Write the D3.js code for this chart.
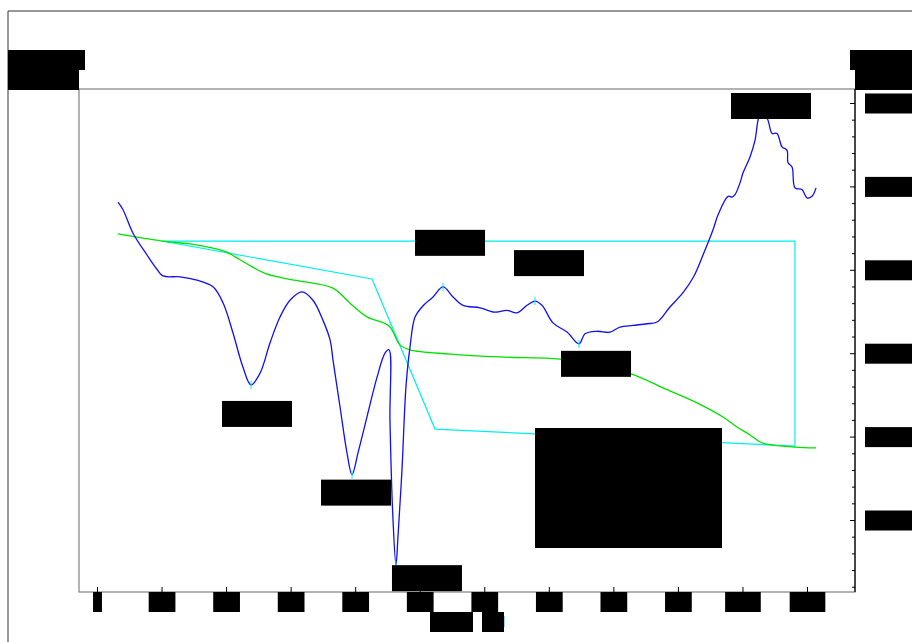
<!DOCTYPE html>
<html>
<head>
<meta charset="utf-8">
<script src="https://cdn.jsdelivr.net/npm/d3@7"></script>
<style>
  html, body { margin: 0; padding: 0; background: #fff; }
  svg { display: block; font-family: "DejaVu Sans", sans-serif; }
</style>
</head>
<body>
<svg id="chart" width="912" height="642"></svg>
<script>
// ---------------- data ----------------
const xTicks = [0, 100, 200, 300, 400, 500, 600, 700, 800, 900, 1000, 1100];
const tgTicks = [0, 20, 40, 60, 80, 100];
const tgTickLabels = ["0.0", "20.0", "40.0", "60.0", "80.0", "100.0"];

// DTA signal (blue)
const dtaTemp = [32.5,40.3,55.8,77.5,92.9,102.3,128.6,154.9,179.7,195.2,210.7,226.2,238.6,252.6,268.0,283.5,299.0,317.6,334.6,350.1,361.0,365.6,376.5,387.3,395.1,404.4,418.3,433.8,446.2,452.4,453.9,458.6,463.2,466.3,472.5,478.7,484.9,492.7,503.5,520.6,536.1,551.6,567.0,593.4,613.5,619.7,635.2,650.7,666.2,678.6,689.4,706.5,728.2,746.8,756.1,774.6,794.8,810.3,830.4,852.1,867.6,887.7,907.9,924.3,938.9,954.4,962.2,977.7,983.9,988.5,996.2,1000.9,1011.7,1019.5,1024.2,1027.2,1038.0,1045.8,1053.5,1061.3,1069.0,1070.6,1076.8,1081.4,1092.3,1100.0,1107.8,1114.0];
const dtaSignal = [-3.5,-4.4,-7.2,-9.8,-11.5,-12.3,-12.4,-12.8,-13.6,-15.5,-19.1,-23.2,-25.3,-23.9,-20.3,-17.2,-15.2,-14.2,-15.2,-17.6,-19.9,-22.3,-27.9,-33.4,-36.0,-33.4,-29.1,-24.4,-21.5,-21.1,-29.5,-41.4,-46.8,-43.4,-35.4,-25.5,-20.8,-17.2,-16.0,-14.8,-13.6,-14.8,-15.8,-16.1,-16.6,-16.6,-16.4,-16.7,-15.8,-15.3,-15.8,-17.9,-19.0,-20.4,-19.2,-18.9,-19.0,-18.4,-18.2,-18.0,-17.8,-16.0,-14.3,-12.4,-9.8,-6.8,-5.0,-2.8,-2.9,-2.6,-1.2,0.0,1.9,3.9,6.3,6.9,6.5,4.7,4.7,3.1,2.7,1.2,0.7,-1.8,-2.0,-3.0,-2.8,-1.8];

// TG mass (green)
const tgTemp = [32.5,100.7,144.1,179.7,200.3,221.6,240.6,262.3,302.6,314.5,365.6,392.0,418.3,452.4,469.4,484.9,546.8,624.3,717.3,773.1,828.8,876.8,929.5,969.8,991.5,1011.7,1027.2,1038.0,1081.4,1114.0];
const tgMass = [68.6,66.9,66.2,65.2,64.3,62.4,60.7,59.0,57.6,57.3,55.6,52.0,48.7,46.5,42.0,40.8,39.8,39.1,38.6,37.2,35.0,31.7,28.1,24.7,22.3,20.4,18.7,18.2,17.5,17.3];

// TG step analysis outline (cyan)
const stepTemp = [100.7, 1081.4, 1081.4, 523.7, 426.1, 100.7];
const stepMass = [66.9, 66.9, 17.7, 21.8, 57.8, 66.9];

// DTA peaks
const peakTemp = [238.6, 395.1, 463.2, 536.1, 678.6, 746.8, 1027.2];
const peakText = ["238.6Cel", "395.1Cel", "463.2Cel", "536.1Cel", "678.6Cel", "746.8Cel", "1027.2Cel"];

const legendLines = ["Sample", "Weight  12.345 mg", "Heating  10 Cel/min", "Atmosphere  Air", "TG step  -49.6 %"];

// ---------------- layout ----------------
const L = 79, R = 855, T = 89, B = 592;
const svg = d3.select("#chart");
const FONT = 14;

const x = d3.scaleLinear().domain([0, 1100]).range([97, 807]);
const yTg = d3.scaleLinear().domain([0, 100]).range([520, 103]);
const yDta = d3.scaleLinear().domain([-50, 10]).range([B, T]);

// outer frame
svg.append("path").attr("d", `M8,642V11H912`).attr("fill", "none").attr("stroke", "#333").attr("stroke-width", 1);
// plot frame
svg.append("rect").attr("x", L).attr("y", T).attr("width", R - L).attr("height", B - T)
  .attr("fill", "none").attr("stroke", "#808080").attr("stroke-width", 1.2);
svg.append("line").attr("x1", R).attr("x2", 912).attr("y1", T).attr("y2", T).attr("stroke", "#808080").attr("stroke-width", 1.2);

function blackBox(g, cx, top, w, h, text, anchor) {
  const gg = g.append("g");
  const rx = anchor === "start" ? cx : anchor === "end" ? cx - w : cx - w / 2;
  gg.append("rect").attr("x", rx).attr("y", top).attr("width", w).attr("height", h).attr("fill", "#000");
  gg.append("text").attr("x", anchor === "start" ? rx + 1 : rx + w / 2).attr("y", top + h / 2)
    .attr("dy", "0.35em").attr("text-anchor", anchor === "start" ? "start" : "middle")
    .attr("font-size", FONT).attr("fill", "#000").text(text);
  return gg;
}

// ---------------- x axis (ticks inward) ----------------
const xAxisG = svg.append("g").attr("transform", `translate(0,${B})`)
  .call(d3.axisBottom(x).tickValues(xTicks).tickSizeInner(-5).tickSizeOuter(0).tickPadding(5).tickFormat(d3.format("d")));
xAxisG.select(".domain").remove();
xAxisG.selectAll(".tick line").attr("stroke", "#000");
xAxisG.selectAll(".tick text").attr("font-size", FONT).attr("fill", "#000").attr("font-family", "DejaVu Sans");
xAxisG.selectAll(".tick").each(function () {
  const t = d3.select(this).select("text");
  const bb = t.node().getBBox();
  d3.select(this).insert("rect", "text").attr("x", bb.x).attr("y", 0).attr("width", bb.width).attr("height", 20).attr("fill", "#000");
});
// x axis title
blackBox(svg, 430, 612, 43, 20, "Temp", "start");
blackBox(svg, 482, 612, 22, 20, "Cel", "start");

// ---------------- right axis (TG) ----------------
const minorVals = d3.range(-16, 101, 4).filter(v => !tgTicks.includes(v));
const minorG = svg.append("g").attr("transform", `translate(${R},0)`)
  .call(d3.axisRight(yTg).tickValues(minorVals).tickSizeInner(-3).tickSizeOuter(0).tickFormat(""));
minorG.select(".domain").remove();
const rAxisG = svg.append("g").attr("transform", `translate(${R},0)`)
  .call(d3.axisRight(yTg).tickValues(tgTicks).tickSizeInner(-5).tickSizeOuter(0).tickPadding(11)
    .tickFormat((d, i) => tgTickLabels[i]));
rAxisG.select(".domain").remove();
rAxisG.selectAll(".tick text").attr("font-size", FONT).attr("fill", "#000").attr("font-family", "DejaVu Sans");
rAxisG.selectAll(".tick").insert("rect", "text").attr("x", 10).attr("y", -10).attr("width", 50).attr("height", 20).attr("fill", "#000");
svg.append("line").attr("x1", R).attr("x2", R).attr("y1", T).attr("y2", B).attr("stroke", "#000").attr("stroke-width", 1.2);

// axis titles
blackBox(svg, 8, 50, 77, 20, "DTA /uV", "start");
blackBox(svg, 8, 70, 71, 20, "exo up", "start");
blackBox(svg, 850, 50, 62, 20, "TG /%", "start");
blackBox(svg, 855, 70, 57, 20, "mass", "start");

// ---------------- curves ----------------
const plot = svg.append("g");
const stepData = stepTemp.map((t, i) => [t, stepMass[i]]);
plot.append("path").datum(stepData)
  .attr("d", d3.line().x(d => x(d[0])).y(d => yTg(d[1])))
  .attr("fill", "none").attr("stroke", "#00eeee").attr("stroke-width", 1.2);

const tgData = tgTemp.map((t, i) => [t, tgMass[i]]);
plot.append("path").datum(tgData)
  .attr("d", d3.line().curve(d3.curveCatmullRom.alpha(0.5)).x(d => x(d[0])).y(d => yTg(d[1])))
  .attr("fill", "none").attr("stroke", "#00e000").attr("stroke-width", 1.3);

const dtaData = dtaTemp.map((t, i) => [t, dtaSignal[i]]);
plot.append("path").datum(dtaData)
  .attr("d", d3.line().curve(d3.curveCatmullRom.alpha(0.5)).x(d => x(d[0])).y(d => yDta(d[1])))
  .attr("fill", "none").attr("stroke", "#1010ee").attr("stroke-width", 1.3);

// peak markers
const peakVal = peakTemp.map(t => dtaSignal[dtaTemp.indexOf(t)]);
plot.selectAll(".pk").data(peakTemp).join("line").attr("class", "pk")
  .attr("x1", d => x(d)).attr("x2", d => x(d))
  .attr("y1", (d, i) => yDta(peakVal[i]) - 4).attr("y2", (d, i) => yDta(peakVal[i]) + 4)
  .attr("stroke", "#00eeee").attr("stroke-width", 1);

// peak labels (offsets from the peak point, in px)
const labelOffset = [[6, 16], [4, 5], [31, 0], [7, -57], [14, -51], [17, 7], [11, -22]];
peakTemp.forEach((t, i) => {
  const px = x(t) + labelOffset[i][0];
  const py = yDta(peakVal[i]) + labelOffset[i][1];
  blackBox(svg, px, py, i === 6 ? 80 : 70, 26, peakText[i], "middle");
});

// legend block
const lg = svg.append("g").attr("transform", "translate(535,428)");
lg.append("rect").attr("width", 187).attr("height", 120).attr("fill", "#000");
lg.selectAll("text").data(legendLines).join("text")
  .attr("x", 8).attr("y", (d, i) => 20 + i * 22).attr("font-size", FONT).attr("fill", "#000").text(d => d);
</script>
</body>
</html>
